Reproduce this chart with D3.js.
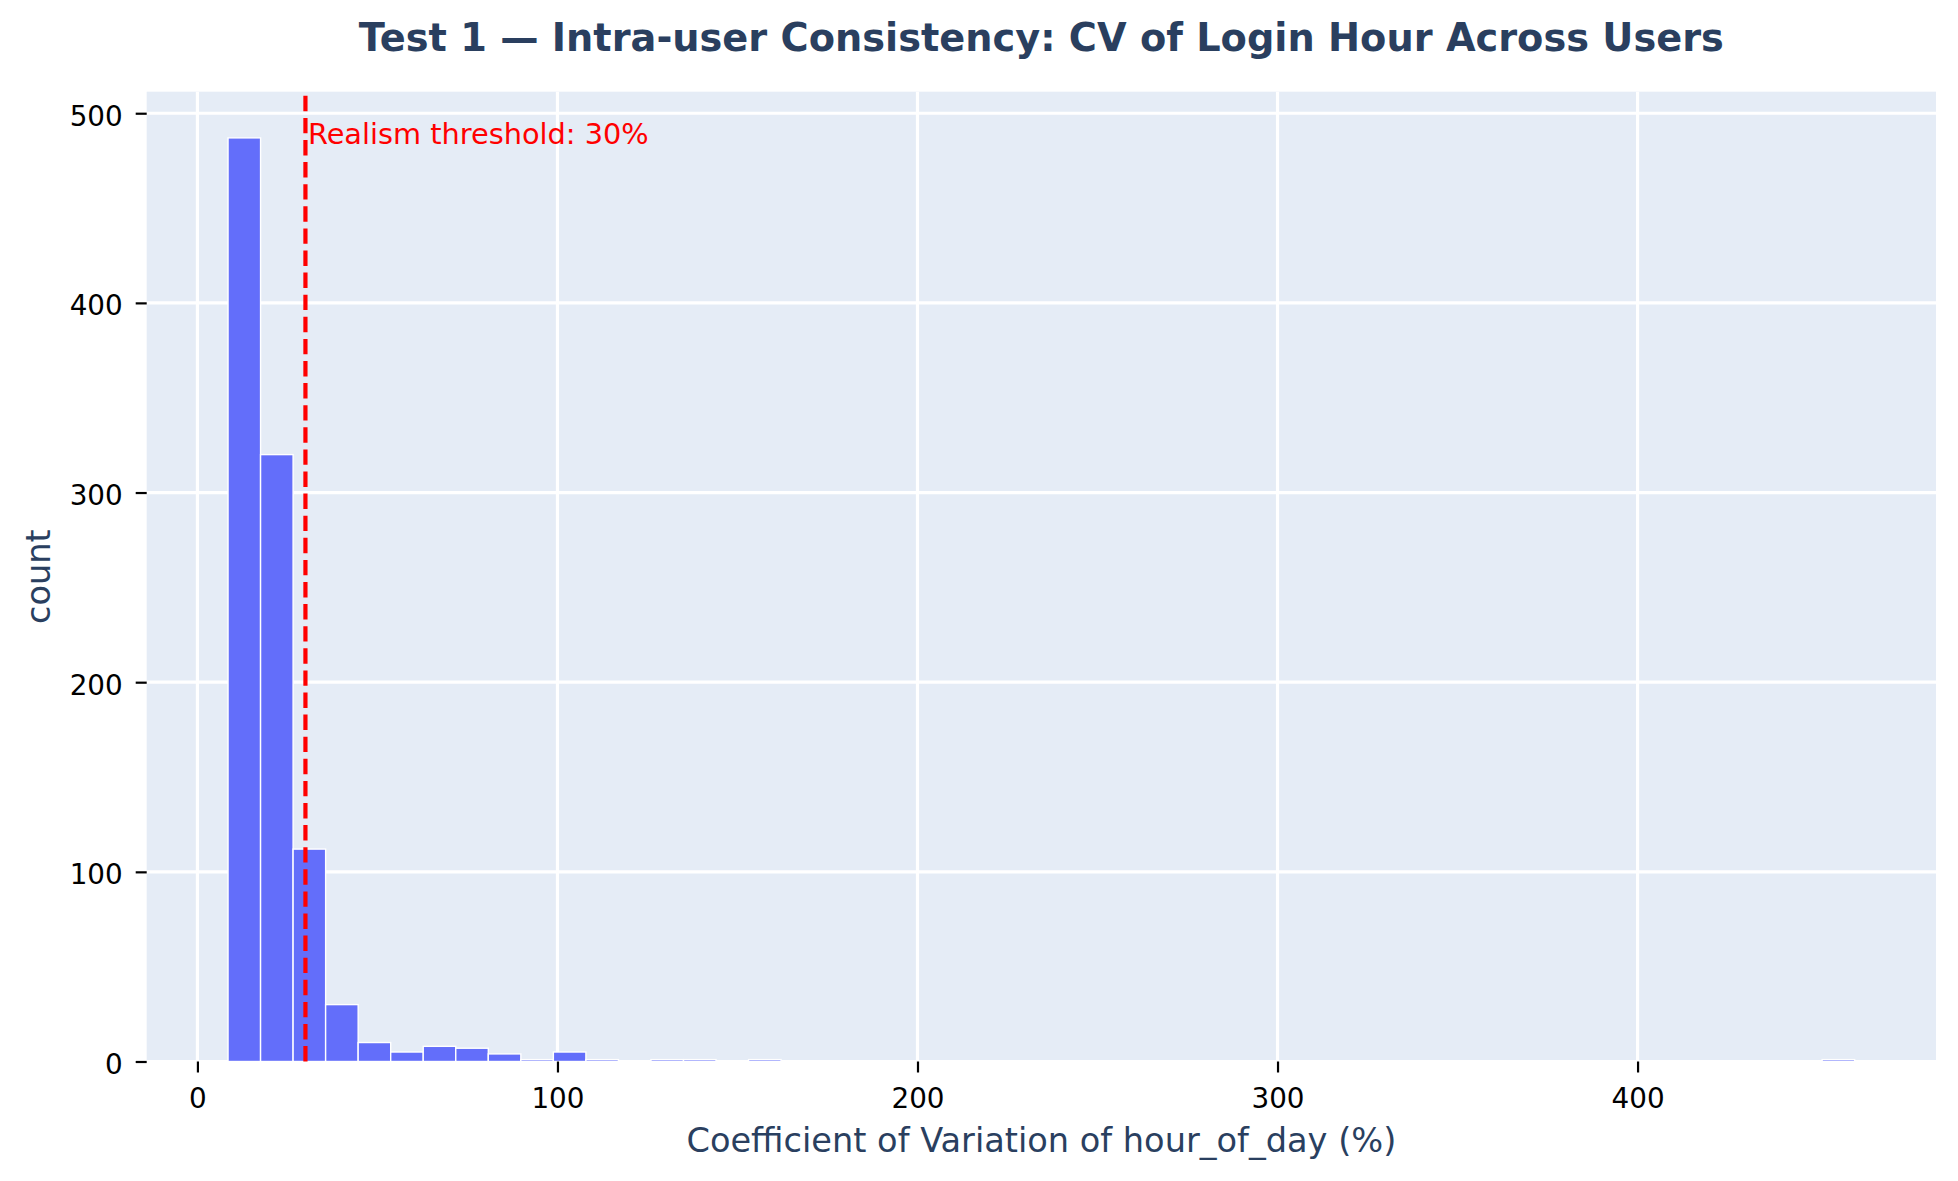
<!DOCTYPE html>
<html>
<head>
<meta charset="utf-8">
<script src="https://cdn.jsdelivr.net/npm/d3@7"></script>
<style>
    html, body { margin: 0; padding: 0; background: #fff; }
    svg { display: block; font-family: "DejaVu Sans", sans-serif; }
</style>
</head>
<body>
<svg id="chart"></svg>
<script>
// histogram of per-user CV (%) of login hour, 50 equal bins
const binStart = 8.5,
    binEnd = 460.3;
const counts = [
    487, 320, 112, 30, 10, 5, 8, 7, 4, 1,
    5, 1, 0, 1, 1, 0, 1, 0, 0, 0,
    0, 0, 0, 0, 0, 0, 0, 0, 0, 0,
    0, 0, 0, 0, 0, 0, 0, 0, 0, 0,
    0, 0, 0, 0, 0, 0, 0, 0, 0, 1
];
const xTicks = [0, 100, 200, 300, 400];
const yTicks = [0, 100, 200, 300, 400, 500];
const threshold = 30;
const thresholdLabel = 'Realism threshold: 30%';
const title = 'Test 1 \u2014 Intra-user Consistency: CV of Login Hour Across Users';
const xLabel = 'Coefficient of Variation of hour_of_day (%)';
const yLabel = 'count';

const W = 1958, H = 1181;
const margin = {top: 91.7, right: 22, bottom: 119.5, left: 146.7};
const innerW = W - margin.left - margin.right,
    innerH = H - margin.top - margin.bottom;

const binWidth = (binEnd - binStart) / counts.length;
const bins = counts.map((c, i) => ({
    x0: binStart + i * binWidth,
    x1: binStart + (i + 1) * binWidth,
    count: c
}));

const pad = (binEnd - binStart) * 0.05;
const xScale = d3.scaleLinear()
    .domain([binStart - pad, binEnd + pad])
    .range([0, innerW]);

const yScale = d3.scaleLinear()
    .domain([0, d3.max(counts) * 1.05])
    .range([innerH, 0]);

const svg = d3.select('#chart')
    .attr('width', W)
    .attr('height', H);

svg.append('text')
    .attr('x', margin.left + innerW / 2)
    .attr('y', 50.7)
    .attr('text-anchor', 'middle')
    .attr('font-size', 38.3)
    .attr('font-weight', 'bold')
    .attr('fill', '#2a3f5f')
    .text(title);

const g = svg.append('g')
    .attr('transform', `translate(${margin.left},${margin.top})`);

g.append('rect')
    .attr('width', innerW)
    .attr('height', innerH)
    .attr('fill', '#e5ecf6');

// grid
g.append('g')
    .selectAll('line')
    .data(xTicks)
    .join('line')
        .attr('x1', d => xScale(d))
        .attr('x2', d => xScale(d))
        .attr('y1', 0)
        .attr('y2', innerH)
        .attr('stroke', '#fff')
        .attr('stroke-width', 3.2);

g.append('g')
    .selectAll('line')
    .data(yTicks)
    .join('line')
        .attr('x1', 0)
        .attr('x2', innerW)
        .attr('y1', d => yScale(d))
        .attr('y2', d => yScale(d))
        .attr('stroke', '#fff')
        .attr('stroke-width', 3.2);

// bars
g.append('g')
    .selectAll('rect')
    .data(bins.filter(d => d.count > 0))
    .join('rect')
        .attr('x', d => xScale(d.x0))
        .attr('width', d => xScale(d.x1) - xScale(d.x0))
        .attr('y', d => yScale(d.count))
        .attr('height', d => yScale(0) - yScale(d.count))
        .attr('fill', '#636efa')
        .attr('stroke', '#fff')
        .attr('stroke-width', 1.4);

// threshold line, drawn bottom-up so the dashes start at the axis
g.append('line')
    .attr('x1', xScale(threshold))
    .attr('x2', xScale(threshold))
    .attr('y1', innerH)
    .attr('y2', 0)
    .attr('stroke', '#ff0000')
    .attr('stroke-width', 4.2)
    .attr('stroke-dasharray', '15.4 6.7');

g.append('text')
    .attr('x', xScale(threshold) + 2.5)
    .attr('y', 144 - margin.top)
    .attr('font-size', 28.8)
    .attr('fill', '#ff0000')
    .text(thresholdLabel);

// axes
const xAxis = d3.axisBottom(xScale)
    .tickValues(xTicks)
    .tickSize(11)
    .tickPadding(0)
    .tickFormat(d3.format('d'));

const xAxisGroup = g.append('g')
    .attr('transform', `translate(0,${innerH})`)
    .call(xAxis);

const yAxis = d3.axisLeft(yScale)
    .tickValues(yTicks)
    .tickSize(11)
    .tickPadding(13)
    .tickFormat(d3.format('d'));

const yAxisGroup = g.append('g')
    .call(yAxis);

[xAxisGroup, yAxisGroup].forEach(ax => {
    ax.select('.domain').remove();
    ax.selectAll('.tick line')
        .attr('stroke', '#000')
        .attr('stroke-width', 2.2);
    ax.selectAll('.tick text')
        .attr('font-family', '"DejaVu Sans", sans-serif')
        .attr('font-size', 27.8)
        .attr('fill', '#000');
});

xAxisGroup.selectAll('.tick text')
    .attr('y', 1108.3 - margin.top - innerH)
    .attr('dy', null);

yAxisGroup.selectAll('.tick text')
    .attr('dy', 12);

svg.append('text')
    .attr('x', margin.left + innerW / 2)
    .attr('y', 1151.7)
    .attr('text-anchor', 'middle')
    .attr('font-size', 33.6)
    .attr('fill', '#2a3f5f')
    .text(xLabel);

svg.append('text')
    .attr('transform', `translate(50,${margin.top + innerH / 2}) rotate(-90)`)
    .attr('text-anchor', 'middle')
    .attr('font-size', 33.6)
    .attr('fill', '#2a3f5f')
    .text(yLabel);
</script>
</body>
</html>
